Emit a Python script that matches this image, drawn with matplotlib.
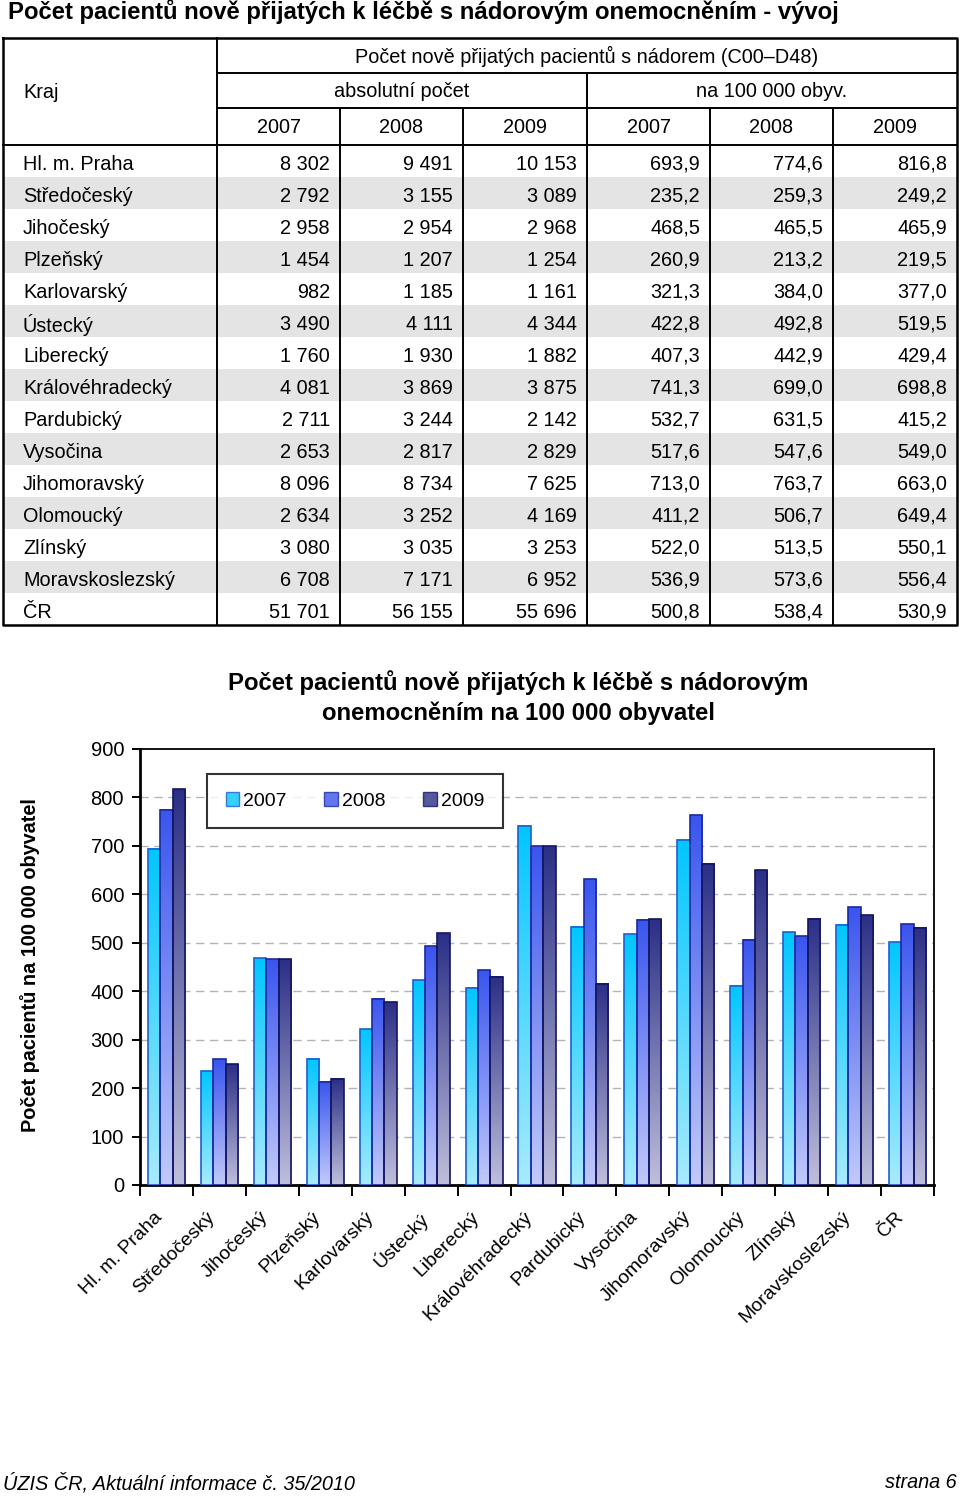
import numpy as np
import matplotlib
matplotlib.use("Agg")
import matplotlib.pyplot as plt
import matplotlib.transforms as mtransforms
from matplotlib.colors import LinearSegmentedColormap
from matplotlib.patches import Patch

plt.rcParams['font.family'] = ['Liberation Sans', 'DejaVu Sans']

# ----- data -----
regions = ["Hl. m. Praha", "Středočeský", "Jihočeský", "Plzeňský", "Karlovarský",
           "Ústecký", "Liberecký", "Královéhradecký", "Pardubický", "Vysočina",
           "Jihomoravský", "Olomoucký", "Zlínský", "Moravskoslezský", "ČR"]
years = ["2007", "2008", "2009"]

abs_2007 = ["8 302", "2 792", "2 958", "1 454", "982", "3 490", "1 760", "4 081",
            "2 711", "2 653", "8 096", "2 634", "3 080", "6 708", "51 701"]
abs_2008 = ["9 491", "3 155", "2 954", "1 207", "1 185", "4 111", "1 930", "3 869",
            "3 244", "2 817", "8 734", "3 252", "3 035", "7 171", "56 155"]
abs_2009 = ["10 153", "3 089", "2 968", "1 254", "1 161", "4 344", "1 882", "3 875",
            "2 142", "2 829", "7 625", "4 169", "3 253", "6 952", "55 696"]

rate_2007 = [693.9, 235.2, 468.5, 260.9, 321.3, 422.8, 407.3, 741.3,
             532.7, 517.6, 713.0, 411.2, 522.0, 536.9, 500.8]
rate_2008 = [774.6, 259.3, 465.5, 213.2, 384.0, 492.8, 442.9, 699.0,
             631.5, 547.6, 763.7, 506.7, 513.5, 573.6, 538.4]
rate_2009 = [816.8, 249.2, 465.9, 219.5, 377.0, 519.5, 429.4, 698.8,
             415.2, 549.0, 663.0, 649.4, 550.1, 556.4, 530.9]

W, H = 960, 1497
fig = plt.figure(figsize=(W / 100, H / 100), dpi=100)

# page layer in pixel coordinates
pg = fig.add_axes([0, 0, 1, 1])
pg.set_xlim(0, W)
pg.set_ylim(H, 0)
pg.axis("off")

pg.text(8, 12, "Počet pacientů nově přijatých k léčbě s nádorovým onemocněním - vývoj",
        fontsize=17.2, fontweight="bold", va="center", ha="left")

# ----- table -----
cols = [3, 217, 340, 463, 587, 710, 833, 957]
top, h1, h2, hdr = 38, 73, 108, 145
row_h = 32
bottom = hdr + row_h * len(regions)
lw = 1.4

for i in range(len(regions)):
    y0 = hdr + i * row_h
    if i % 2 == 1:
        pg.fill_between([cols[0], cols[-1]], y0, y0 + row_h, color="#e4e4e4", lw=0, zorder=0)

pg.plot([cols[0], cols[-1], cols[-1], cols[0], cols[0]], [top, top, bottom, bottom, top],
        color="black", lw=1.8, zorder=3)
pg.plot([cols[1], cols[-1]], [h1, h1], color="black", lw=lw)
pg.plot([cols[1], cols[-1]], [h2, h2], color="black", lw=lw)
pg.plot([cols[0], cols[-1]], [hdr, hdr], color="black", lw=lw)
pg.plot([cols[1], cols[1]], [top, bottom], color="black", lw=lw)
pg.plot([cols[4], cols[4]], [h1, bottom], color="black", lw=lw)
for c in [cols[2], cols[3], cols[5], cols[6]]:
    pg.plot([c, c], [h2, bottom], color="black", lw=lw)

fs = 14.3
pg.text(23, (top + hdr) / 2 + 1, "Kraj", fontsize=fs, va="center")
pg.text((cols[1] + cols[-1]) / 2, (top + h1) / 2 + 1, "Počet nově přijatých pacientů s nádorem (C00–D48)",
        fontsize=fs, ha="center", va="center")
pg.text((cols[1] + cols[4]) / 2, (h1 + h2) / 2 + 1, "absolutní počet", fontsize=fs, ha="center", va="center")
pg.text((cols[4] + cols[-1]) / 2, (h1 + h2) / 2 + 1, "na 100 000 obyv.", fontsize=fs, ha="center", va="center")
for k in range(6):
    pg.text((cols[k + 1] + cols[k + 2]) / 2, (h2 + hdr) / 2 + 1, years[k % 3],
            fontsize=fs, ha="center", va="center")

table_cols = [abs_2007, abs_2008, abs_2009,
              [f"{v:.1f}".replace(".", ",") for v in rate_2007],
              [f"{v:.1f}".replace(".", ",") for v in rate_2008],
              [f"{v:.1f}".replace(".", ",") for v in rate_2009]]
for i, name in enumerate(regions):
    yc = hdr + i * row_h + row_h / 2 + 3.5
    pg.text(23, yc, name, fontsize=fs, va="center")
    for k, col in enumerate(table_cols):
        pg.text(cols[k + 2] - 10, yc, col[i], fontsize=fs, va="center", ha="right")

# ----- chart -----
ax_l, ax_r, ax_t, ax_b = 140, 934, 749, 1185
ax = fig.add_axes([ax_l / W, (H - ax_b) / H, (ax_r - ax_l) / W, (ax_b - ax_t) / H])

x = np.arange(len(regions))
bw = 0.233
series = [rate_2007, rate_2008, rate_2009]
light = ["#a8ebfb", "#c2cafa", "#bfbfdc"]
dark = ["#00c6ff", "#3a55ee", "#2b2f86"]
edges = ["#1f5fd0", "#1c2aa0", "#141660"]
grad = np.linspace(0, 1, 256).reshape(-1, 1)

for s, vals in enumerate(series):
    bars = ax.bar(x + (s - 1) * bw, vals, bw, facecolor="none", edgecolor=edges[s],
                  linewidth=1.2, zorder=4)
    cmap = LinearSegmentedColormap.from_list(f"g{s}", [light[s], dark[s]])
    for b in bars:
        ax.imshow(grad, cmap=cmap, origin="lower", aspect="auto", zorder=3,
                  extent=[b.get_x(), b.get_x() + b.get_width(), 0, b.get_height()])

ax.set_xlim(-0.5, len(regions) - 0.5)
ax.set_ylim(0, 900)
ax.set_yticks(np.arange(0, 901, 100))
ax.tick_params(axis="y", labelsize=14.5, length=6, width=1.4, pad=5.5)
ax.set_xticks(np.arange(-0.5, len(regions), 1))
ax.set_xticklabels([])
ax.tick_params(axis="x", which="major", length=8, width=1.4)
ax.set_xticks(x, minor=True)
ax.set_xticklabels(regions, minor=True, rotation=45, ha="right", rotation_mode="anchor", fontsize=14)
ax.tick_params(axis="x", which="minor", length=0, pad=14)
shift = mtransforms.ScaledTranslation(-13 / 100, -4 / 100, fig.dpi_scale_trans)
for lab in ax.get_xticklabels(minor=True):
    lab.set_transform(lab.get_transform() + shift)
for v in range(100, 900, 100):
    ax.axhline(v, color="#b4b4b4", lw=1, ls=(0, (6, 4)), zorder=1)
for side in ["left", "bottom"]:
    ax.spines[side].set_linewidth(2)
for side in ["top", "right"]:
    ax.spines[side].set_linewidth(1.3)

fig.text(518 / W, 1 - 698 / H, "Počet pacientů nově přijatých k léčbě s nádorovým\nonemocněním na 100 000 obyvatel",
         fontsize=17.2, fontweight="bold", ha="center", va="center", linespacing=1.35)
fig.text(30 / W, 1 - 965 / H, "Počet pacientů na 100 000 obyvatel", rotation=90,
         fontsize=14.3, fontweight="bold", ha="center", va="center")

handles = [Patch(facecolor=dark[s], edgecolor=edges[s], alpha=0.8, label=years[s]) for s in range(3)]
leg = ax.legend(handles=handles, ncol=3, loc="upper left", bbox_to_anchor=(0.0845, 0.943),
                borderaxespad=0, fontsize=14, frameon=True, fancybox=False,
                handlelength=0.7, handleheight=0.7, handletextpad=0.2, columnspacing=1.95,
                borderpad=0.95)
leg.get_frame().set_edgecolor("black")
leg.get_frame().set_linewidth(1.5)
leg.set_zorder(6)

# footer
pg.text(3, 1483, "ÚZIS ČR, Aktuální informace č. 35/2010", fontsize=14.3, style="italic", va="center")
pg.text(957, 1483, "strana 6", fontsize=14.3, style="italic", va="center", ha="right")

fig.savefig("out.png", dpi=100)
